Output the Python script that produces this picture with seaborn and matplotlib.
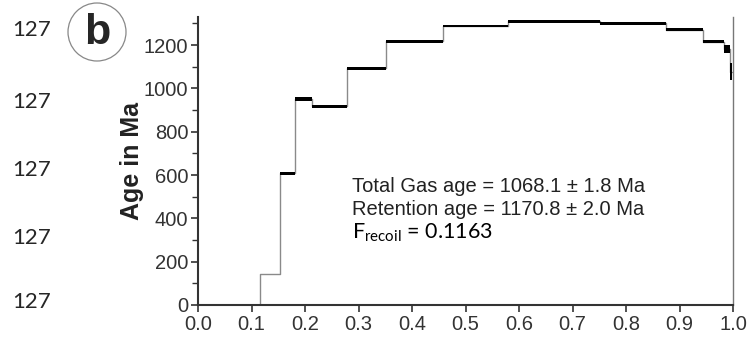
import matplotlib
matplotlib.use("Agg")
import matplotlib.pyplot as plt
import matplotlib.patches as mpatches
import seaborn as sns
import pandas as pd

# ---- data ----
step_left = [0.115, 0.153, 0.181, 0.213, 0.278, 0.351, 0.458, 0.579, 0.751, 0.875, 0.944, 0.983, 0.995]
step_right_end = 0.999
ages = [145, 609, 951, 918, 1094, 1218, 1288, 1311, 1300, 1272, 1215, 1181, 1078]
errs = [2, 7, 9, 7, 7, 7, 6, 7, 6, 8, 7, 18, 40]
x_ticks = [0.0, 0.1, 0.2, 0.3, 0.4, 0.5, 0.6, 0.7, 0.8, 0.9, 1.0]
y_ticks = [0, 200, 400, 600, 800, 1000, 1200]
annot_lines = ["Total Gas age = 1068.1 \u00b1 1.8 Ma", "Retention age = 1170.8 \u00b1 2.0 Ma"]
frecoil_text = r"$\mathregular{F_{recoil}}$ = 0.1163"
side_labels = ["127", "127", "127", "127", "127"]

sns.set_style("ticks")
plt.rcParams["font.family"] = ["Liberation Sans", "DejaVu Sans"]
plt.rcParams["mathtext.fontset"] = "custom"
plt.rcParams["mathtext.rm"] = "Lato"

fig = plt.figure(figsize=(7.49, 3.38), dpi=100)
ax = fig.add_axes([198 / 749, 1 - 305 / 338, (733 - 198) / 749, (305 - 17) / 338])

# step outline
x_pts = [step_left[0]] + step_left + [step_right_end]
y_pts = [0] + ages + [ages[-1]]
df = pd.DataFrame({"x": x_pts, "y": y_pts})
sns.lineplot(data=df, x="x", y="y", drawstyle="steps-post", color="#8a8a8a",
             linewidth=1.0, ax=ax, sort=False, estimator=None, zorder=2)

# age plateaus with their error thickness
rights = step_left[1:] + [step_right_end]
for l, r, a, e in zip(step_left, rights, ages, errs):
    if e > 2:
        ax.fill_between([l, r], a - e, a + e, color="black", linewidth=0, zorder=3)

ax.set_xlim(0, 1.0)
ax.set_ylim(0, 1330)
ax.set_xticks(x_ticks)
ax.set_xticklabels([f"{v:.1f}" for v in x_ticks])
ax.set_yticks(y_ticks)
ax.set_yticks([100, 300, 500, 700, 900, 1100, 1300], minor=True)
ax.tick_params(axis="both", which="major", direction="out", length=5, width=1.2,
               labelsize=14.5, colors="#333333", pad=2)
ax.tick_params(axis="y", which="minor", direction="out", length=4, width=1.0, color="#333333")
ax.set_xlabel("")
ax.set_ylabel("Age in Ma", fontsize=18, fontweight="bold", color="#222222", labelpad=0)

for s in ["left", "bottom"]:
    ax.spines[s].set_color("#333333")
    ax.spines[s].set_linewidth(1.5)
ax.spines["top"].set_visible(False)
ax.spines["right"].set_visible(True)
ax.spines["right"].set_color("#777777")
ax.spines["right"].set_linewidth(1.0)

# annotations (positions in data units: 1 px ~ 4.6 Ma)
ax.text(0.288, 549, annot_lines[0], fontsize=14.5, color="#222222", va="center", ha="left")
ax.text(0.288, 443, annot_lines[1], fontsize=14.5, color="#222222", va="center", ha="left")
ax.text(0.288, 335, frecoil_text, fontsize=15.5, family="Lato", color="black", va="center", ha="left")

# panel label
circ = mpatches.Circle((0.97, 3.06), 0.29, transform=fig.dpi_scale_trans,
                       facecolor="white", edgecolor="#888888", linewidth=0.9)
fig.patches.append(circ)
fig.text(97 / 749, 1 - 33 / 338, "b", fontsize=31, fontweight="bold", ha="center", va="center")

# cut-off labels on the left
for lab, yy in zip(side_labels, [30, 102, 170, 238, 302]):
    fig.text(12 / 749, 1 - yy / 338, lab, fontsize=16, family="Lato", ha="left", va="center")

fig.savefig("out.png", dpi=100)
